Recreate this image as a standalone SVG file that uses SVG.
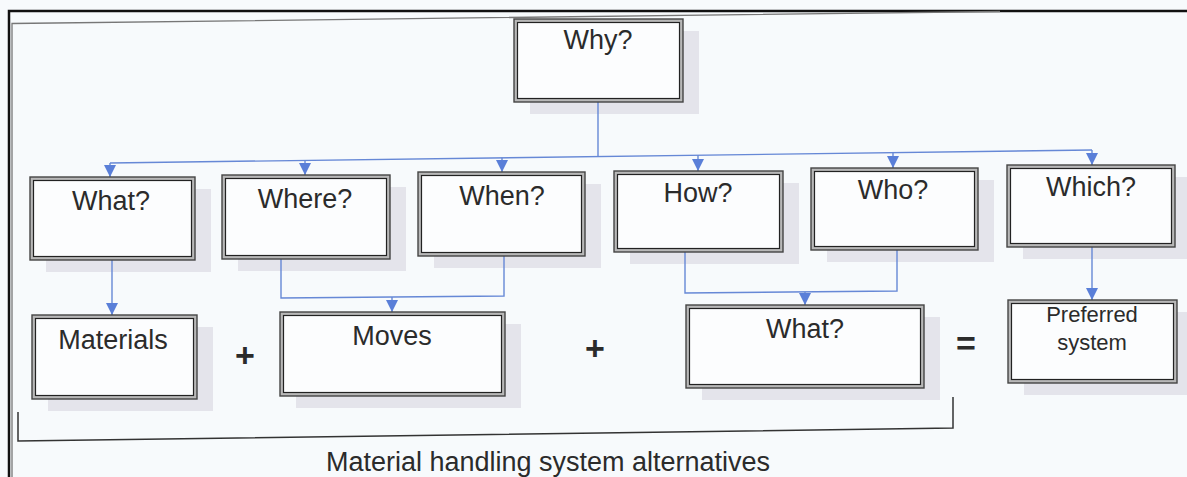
<svg xmlns="http://www.w3.org/2000/svg" width="1187" height="477" viewBox="0 0 1187 477">
<style>
.sh{fill:#e4e4eb}
.o{fill:#b8b8b8;stroke:#444;stroke-width:1.4}
.i{fill:#fcfdfe;stroke:#222;stroke-width:1.2}
.t{font-family:"Liberation Sans",Arial,sans-serif;font-size:27px;fill:#2b2b2b;text-anchor:middle}
.s{font-size:22px}
.op{font-family:"Liberation Sans",Arial,sans-serif;font-weight:bold;font-size:34px;fill:#2b2b2b;text-anchor:middle}
.c{fill:none;stroke:#6688d6;stroke-width:1.4}
.f{fill:none;stroke:#111;stroke-width:2.5}
.g{fill:none;stroke:#777;stroke-width:1.3}
.b{fill:none;stroke:#333;stroke-width:1.5}
</style>
<defs>
<marker id="ah" markerUnits="userSpaceOnUse" markerWidth="13" markerHeight="13" refX="12" refY="6" orient="auto">
<path d="M0,0 L12,6 L0,12 z" fill="#5a7fd8"/>
</marker>
</defs>
<rect width="1187" height="477" fill="#f7fafc"/>
<g id="frame">
<path class="f" d="M9,477 V11 H1187"/>
<path class="g" d="M12,477 V23.5 L1000,11.5"/>
<path class="b" d="M18,412 V441 L953,428 V397"/>
</g>
<g id="shadows">
<rect class="sh" x="530" y="31" width="169" height="83"/>
<rect class="sh" x="46" y="189" width="165" height="83"/>
<rect class="sh" x="238" y="187" width="168" height="84"/>
<rect class="sh" x="434" y="184" width="167" height="84"/>
<rect class="sh" x="630" y="183" width="169" height="81"/>
<rect class="sh" x="827" y="180" width="167" height="82"/>
<rect class="sh" x="1023" y="177" width="164" height="82"/>
<rect class="sh" x="48" y="327" width="165" height="84"/>
<rect class="sh" x="296" y="324" width="225" height="84"/>
<rect class="sh" x="702" y="317" width="238" height="83"/>
<rect class="sh" x="1024" y="312" width="163" height="83"/>
</g>
<g id="connectors">
<path class="c" d="M598,102 V156"/>
<path class="c" d="M110,163 L1092,150"/>
<path class="c" d="M110,163 V177" marker-end="url(#ah)"/>
<path class="c" d="M305,160.4 V175" marker-end="url(#ah)"/>
<path class="c" d="M502,157.8 V172" marker-end="url(#ah)"/>
<path class="c" d="M698,155.2 V171" marker-end="url(#ah)"/>
<path class="c" d="M893,152.6 V168" marker-end="url(#ah)"/>
<path class="c" d="M1092,150 V165" marker-end="url(#ah)"/>
<path class="c" d="M112,260 V315" marker-end="url(#ah)"/>
<path class="c" d="M281,259 V298 L504,296 V256"/>
<path class="c" d="M392,297 V312" marker-end="url(#ah)"/>
<path class="c" d="M685,252 V293 L897,291 V250"/>
<path class="c" d="M805,292 V305" marker-end="url(#ah)"/>
<path class="c" d="M1092,247 V300" marker-end="url(#ah)"/>
</g>
<g id="why"><rect class="o" x="514" y="19" width="169" height="83"/><rect class="i" x="517.5" y="22.5" width="162" height="76"/><text class="t" x="598" y="49">Why?</text></g>
<g id="what1"><rect class="o" x="30" y="177" width="165" height="83"/><rect class="i" x="33.5" y="180.5" width="158" height="76"/><text class="t" x="111" y="210">What?</text></g>
<g id="where"><rect class="o" x="222" y="175" width="168" height="84"/><rect class="i" x="225.5" y="178.5" width="161" height="77"/><text class="t" x="305" y="208">Where?</text></g>
<g id="when"><rect class="o" x="418" y="172" width="167" height="84"/><rect class="i" x="421.5" y="175.5" width="160" height="77"/><text class="t" x="502" y="205">When?</text></g>
<g id="how"><rect class="o" x="614" y="171" width="169" height="81"/><rect class="i" x="617.5" y="174.5" width="162" height="74"/><text class="t" x="698" y="202">How?</text></g>
<g id="who"><rect class="o" x="811" y="168" width="167" height="82"/><rect class="i" x="814.5" y="171.5" width="160" height="75"/><text class="t" x="893" y="199">Who?</text></g>
<g id="which"><rect class="o" x="1007" y="165" width="168" height="82"/><rect class="i" x="1010.5" y="168.5" width="161" height="75"/><text class="t" x="1091" y="196">Which?</text></g>
<g id="materials"><rect class="o" x="32" y="315" width="165" height="84"/><rect class="i" x="35.5" y="318.5" width="158" height="77"/><text class="t" x="113" y="349">Materials</text></g>
<g id="moves"><rect class="o" x="280" y="312" width="225" height="84"/><rect class="i" x="283.5" y="315.5" width="218" height="77"/><text class="t" x="392" y="345">Moves</text></g>
<g id="what2"><rect class="o" x="686" y="305" width="238" height="83"/><rect class="i" x="689.5" y="308.5" width="231" height="76"/><text class="t" x="805" y="338">What?</text></g>
<g id="preferred"><rect class="o" x="1008" y="300" width="169" height="83"/><rect class="i" x="1011.5" y="303.5" width="162" height="76"/><text class="t s" x="1092" y="322">Preferred</text><text class="t s" x="1092" y="350">system</text></g>
<g id="operators">
<text class="op" x="245" y="367">+</text>
<text class="op" x="595" y="360">+</text>
<text class="op" x="966" y="355">=</text>
</g>
<text class="t" x="548" y="471">Material handling system alternatives</text>
</svg>
